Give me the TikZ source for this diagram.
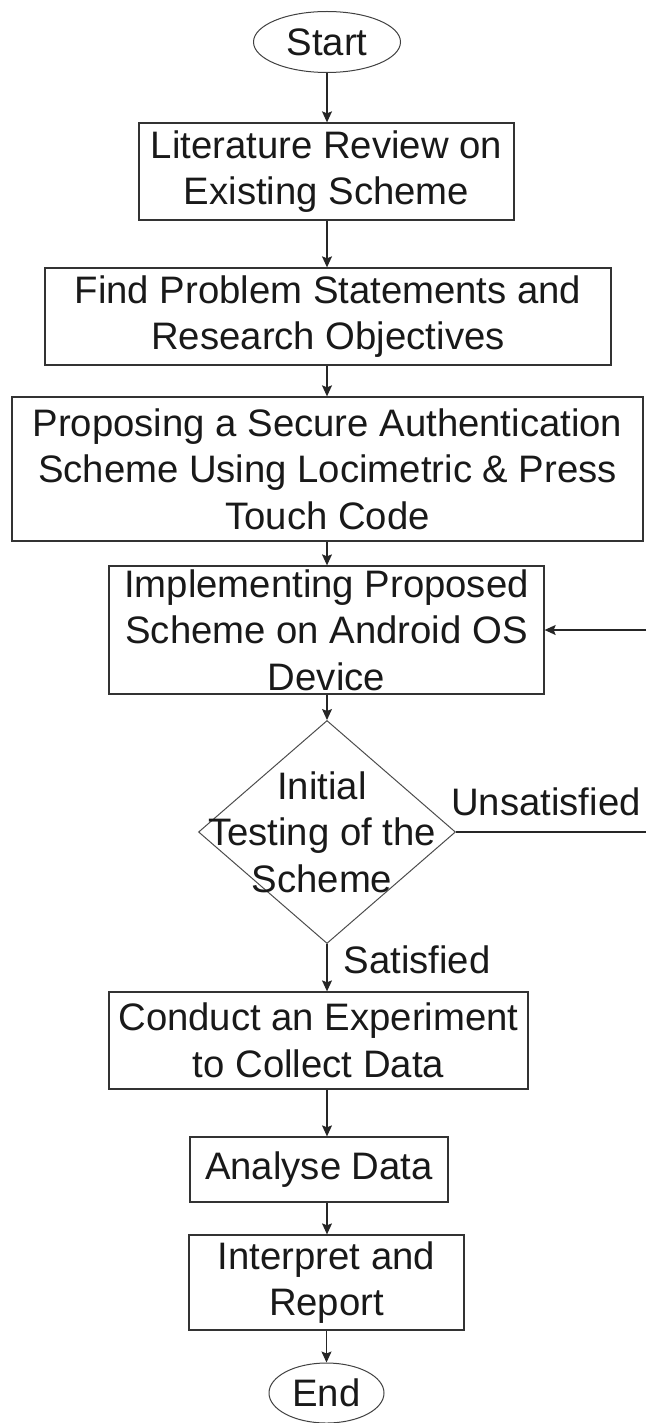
\documentclass[tikz,border=0pt]{standalone}
\usepackage{fontspec}
\setmainfont{Liberation Sans}
\usetikzlibrary{shapes.geometric,arrows.meta}
\begin{document}
\begin{tikzpicture}[x=1pt,y=-1pt,
  every node/.style={font=\fontsize{38.3}{46.5}\selectfont, text=black!90},
  box/.style={draw=black!80, line width=1.3pt, rectangle, inner sep=0pt, align=center},
  term/.style={draw=black!75, line width=1pt, ellipse, inner sep=0pt},
  dia/.style={draw=black!70, line width=1pt, diamond, inner sep=0pt},
  plain/.style={inner sep=0pt, align=center},
  arr/.style={draw=black!85, line width=1.2pt, -{Stealth[length=11pt,width=10pt,inset=2pt]}},
  conn/.style={draw=black!85, line width=1.2pt}]
\useasboundingbox (0,0) rectangle (646,1423);

\node[term, minimum width=147pt, minimum height=61pt] (start) at (327,42) {Start};
\node[box, minimum width=375pt, minimum height=97pt] (b1) at (326.5,171.5) {Literature Review on\\Existing Scheme};
\node[box, minimum width=566pt, minimum height=97pt] (b2) at (328,316.5) {Find Problem Statements and\\Research Objectives};
\node[box, minimum width=631pt, minimum height=144pt] (b3) at (327.5,469) {Proposing a Secure Authentication\\Scheme Using Locimetric \& Press\\Touch Code};
\node[box, minimum width=435pt, minimum height=128pt] (b4) at (326.5,630) {Implementing Proposed\\Scheme on Android OS\\Device};
\node[dia, minimum width=257pt, minimum height=223pt] (d) at (327,832) {};
\node[plain] (dtext) at (322,832) {Initial\\Testing of the\\Scheme};
\node[box, minimum width=419pt, minimum height=97pt] (b5) at (318.5,1040.5) {Conduct an Experiment\\to Collect Data};
\node[box, minimum width=258pt, minimum height=65pt] (b6) at (319,1169.5) {Analyse Data};
\node[box, minimum width=275pt, minimum height=95pt] (b7) at (326.5,1282.5) {Interpret and\\Report};
\node[term, minimum width=115pt, minimum height=60pt] (end) at (326.5,1393) {End};

\node[plain] (lu) at (546,802) {Unsatisfied};
\node[plain] (ls) at (417,960) {Satisfied};

\coordinate (rin) at (646,630);
\coordinate (rout) at (646,832);

\draw[arr] (start.south) -- (start.south |- b1.north);
\draw[arr] (b1.south -| start.south) -- (start.south |- b2.north);
\draw[arr] (b2.south -| start.south) -- (start.south |- b3.north);
\draw[arr] (b3.south -| start.south) -- (start.south |- b4.north);
\draw[arr] (b4.south -| d.north) -- (d.north);
\draw[arr] (d.south) -- (d.south |- b5.north);
\draw[arr] (b5.south -| d.south) -- (d.south |- b6.north);
\draw[arr] (b6.south -| d.south) -- (d.south |- b7.north);
\draw[arr] (b7.south -| end.north) -- (end.north);
\draw[conn] (d.east) -- (rout);
\draw[arr] (rin) -- (b4.east);
\end{tikzpicture}
\end{document}
